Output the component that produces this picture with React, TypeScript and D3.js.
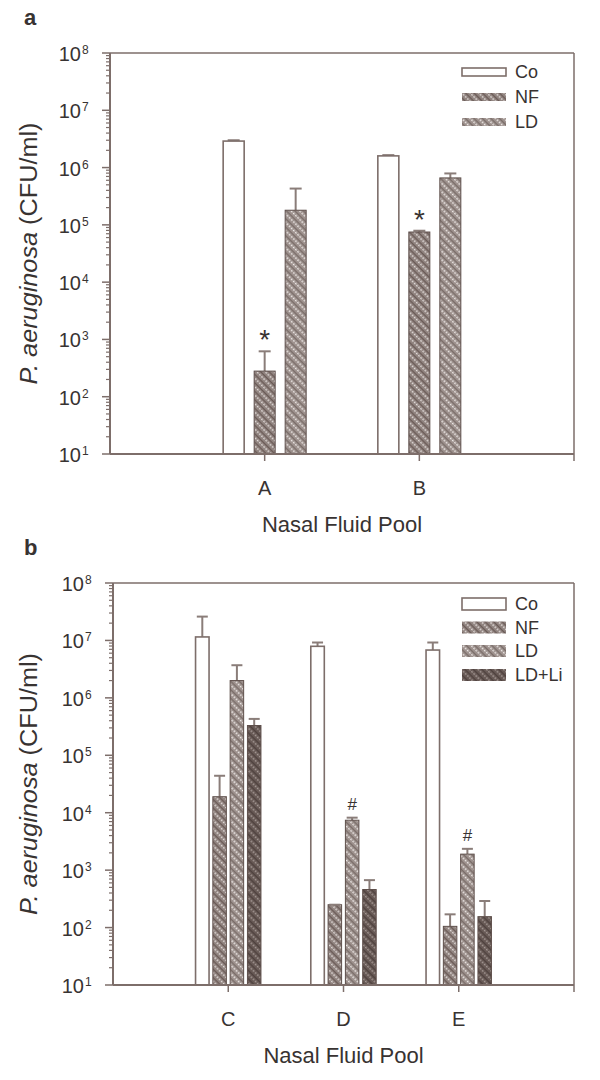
import React from "react";
import * as d3 from "d3";

// ---------- Data ----------
const catsA = ["A", "B"];
const catsB = ["C", "D", "E"];
const seriesA = ["Co", "NF", "LD"];
const seriesB = ["Co", "NF", "LD", "LD+Li"];

// panel a values (CFU/ml) and upper error-bar ends
const coA = [2.9e6, 1.6e6];
const coAErr = [3.0e6, 1.65e6];
const nfA = [280, 7.5e4];
const nfAErr = [620, 7.9e4];
const ldA = [1.8e5, 6.6e5];
const ldAErr = [4.3e5, 7.9e5];
const markA = ["*", "*"]; // over NF bars

// panel b values (CFU/ml) and upper error-bar ends
const coB = [1.15e7, 7.9e6, 6.8e6];
const coBErr = [2.6e7, 9.2e6, 9.2e6];
const nfB = [1.9e4, 250, 105];
const nfBErr = [4.4e4, 250, 170];
const ldB = [2.0e6, 7.4e3, 1.9e3];
const ldBErr = [3.7e6, 8.2e3, 2.35e3];
const liB = [3.3e5, 460, 155];
const liBErr = [4.3e5, 670, 290];
const markB = ["", "#", "#"]; // over LD bars

const yTicks = [1e1, 1e2, 1e3, 1e4, 1e5, 1e6, 1e7, 1e8];

// ---------- Style ----------
const AXIS = "#7d6e6a";
const EDGE = "#5e4f4b";
const ERR = "#8a7d79";
const TEXT = "#383332";
const FONT = "'Liberation Sans', Arial, Helvetica, sans-serif";

const fillFor = (s: string) =>
  s === "Co" ? "#ffffff" : s === "NF" ? "url(#patNF)" : s === "LD" ? "url(#patLD)" : "url(#patLI)";

type PanelProps = {
  label: string;
  top: number;
  bottom: number;
  left: number;
  right: number;
  cats: string[];
  series: string[];
  values: number[][];
  errs: number[][];
  marks: string[];
  markSeries: number;
  markSize: number;
  barW: number;
  pitch: number;
  capW: number;
  legendY: number[];
  legendBoxH: number;
};

function Panel(p: PanelProps) {
  const y = d3.scaleLog().domain([10, 1e8]).range([p.bottom, p.top]);
  const x = d3
    .scaleLinear()
    .domain([0, p.cats.length + 1])
    .range([p.left, p.right]);
  const n = p.series.length;
  const minor: number[] = [];
  for (let e = 1; e < 8; e++) for (let k = 2; k <= 9; k++) minor.push(k * Math.pow(10, e));

  return (
    <g>
      <text x={24} y={p.top - 28} fontSize={22} fontWeight="bold" fill={TEXT} fontFamily={FONT}>
        {p.label}
      </text>
      {/* frame */}
      <line x1={p.left} x2={p.right} y1={p.top} y2={p.top} stroke={AXIS} strokeWidth={1.5} />
      <line x1={p.right} x2={p.right} y1={p.top} y2={p.bottom} stroke={AXIS} strokeWidth={1.5} />
      {/* bars */}
      {p.cats.map((c, i) =>
        p.series.map((s, j) => {
          const cx = x(i + 1) + (j - (n - 1) / 2) * p.pitch;
          const v = p.values[j][i];
          const e = p.errs[j][i];
          return (
            <g key={c + s}>
              {e > v * 1.01 && (
                <g stroke={ERR} strokeWidth={2}>
                  <line x1={cx} x2={cx} y1={y(v)} y2={y(e)} />
                  <line x1={cx - p.capW / 2} x2={cx + p.capW / 2} y1={y(e)} y2={y(e)} />
                </g>
              )}
              <rect
                x={cx - p.barW / 2}
                y={y(v)}
                width={p.barW}
                height={p.bottom - y(v)}
                fill={fillFor(s)}
                stroke={s === "Co" ? AXIS : EDGE}
                strokeWidth={s === "Co" ? 1.6 : 1}
              />
              {e <= v * 1.01 && (
                <line x1={cx - p.capW / 2} x2={cx + p.capW / 2} y1={y(v)} y2={y(v)} stroke={ERR} strokeWidth={2} />
              )}
              {j === p.markSeries && p.marks[i] && (
                <text
                  x={cx}
                  y={y(Math.max(e, v)) - (p.marks[i] === "*" ? 2 : 8)}
                  textAnchor="middle"
                  fontSize={p.markSize}
                  fill={TEXT}
                  fontFamily={FONT}
                >
                  {p.marks[i]}
                </text>
              )}
            </g>
          );
        })
      )}
      {/* y axis */}
      <line x1={p.left} x2={p.left} y1={p.top} y2={p.bottom} stroke={AXIS} strokeWidth={2} />
      {minor.map((m) => (
        <line key={m} x1={p.left - 4} x2={p.left} y1={y(m)} y2={y(m)} stroke={AXIS} strokeWidth={1.2} />
      ))}
      {yTicks.map((t) => (
        <g key={t}>
          <line x1={p.left - 8} x2={p.left} y1={y(t)} y2={y(t)} stroke={AXIS} strokeWidth={1.5} />
          <text x={p.left - 29} y={y(t) + 8} textAnchor="end" fontSize={20} fill={TEXT} fontFamily={FONT}>
            10
          </text>
          <text x={p.left - 28} y={y(t) + 1} textAnchor="start" fontSize={12} fill={TEXT} fontFamily={FONT}>
            {Math.round(Math.log10(t))}
          </text>
        </g>
      ))}
      {/* x axis */}
      <line x1={p.left} x2={p.right} y1={p.bottom} y2={p.bottom} stroke={AXIS} strokeWidth={2} />
      <line x1={p.right} x2={p.right} y1={p.bottom} y2={p.bottom + 7} stroke={AXIS} strokeWidth={1.5} />
      {p.cats.map((c, i) => (
        <g key={c}>
          <line x1={x(i + 1)} x2={x(i + 1)} y1={p.bottom} y2={p.bottom + 7} stroke={AXIS} strokeWidth={1.5} />
          <text x={x(i + 1)} y={p.bottom + 41} textAnchor="middle" fontSize={20} fill={TEXT} fontFamily={FONT}>
            {c}
          </text>
        </g>
      ))}
      <text
        x={(p.left + p.right) / 2}
        y={p.bottom + 78}
        textAnchor="middle"
        fontSize={22}
        fill={TEXT}
        fontFamily={FONT}
      >
        Nasal Fluid Pool
      </text>
      {/* y label */}
      <text
        transform={`translate(37,${(p.top + p.bottom) / 2}) rotate(-90)`}
        textAnchor="middle"
        fontSize={23}
        fill={TEXT}
        fontFamily={FONT}
        textLength={262}
        lengthAdjust="spacingAndGlyphs"
      >
        <tspan fontStyle="italic">P. aeruginosa</tspan> (CFU/ml)
      </text>
      {/* legend */}
      {p.series.map((s, j) => (
        <g key={s}>
          <rect
            x={462}
            y={p.legendY[j] - p.legendBoxH / 2}
            width={44}
            height={p.legendBoxH}
            fill={fillFor(s)}
            stroke={s === "Co" ? AXIS : "none"}
            strokeWidth={1.6}
          />
          <text x={515} y={p.legendY[j] + 6} fontSize={18} fill={TEXT} fontFamily={FONT}>
            {s}
          </text>
        </g>
      ))}
    </g>
  );
}

function Pattern({ id, bg, dot, line }: { id: string; bg: string; dot: string; line: string }) {
  return (
    <pattern id={id} patternUnits="userSpaceOnUse" width={6} height={6} patternTransform="rotate(45)">
      <rect width={6} height={6} fill={bg} />
      <rect x={0} y={0} width={6} height={1.2} fill={line} />
      <rect x={1} y={2.5} width={1.6} height={1.6} fill={dot} />
      <rect x={4} y={2.5} width={1.6} height={1.6} fill={dot} />
    </pattern>
  );
}

export default function App() {
  return (
    <svg width={600} height={1080} style={{ display: "block", position: "absolute", left: 0, top: 0 }}>
      <rect width={600} height={1080} fill="#ffffff" />
      <defs>
        <Pattern id="patNF" bg="#8e817d" dot="#e6e0de" line="#6a5b57" />
        <Pattern id="patLD" bg="#9b8f8b" dot="#f0ebe9" line="#7a6d69" />
        <Pattern id="patLI" bg="#655753" dot="#a89c98" line="#4e413e" />
      </defs>
      <Panel
        label="a"
        top={53}
        bottom={454}
        left={110}
        right={574}
        cats={catsA}
        series={seriesA}
        values={[coA, nfA, ldA]}
        errs={[coAErr, nfAErr, ldAErr]}
        marks={markA}
        markSeries={1}
        markSize={28}
        barW={21}
        pitch={31}
        capW={12}
        legendY={[72, 97, 122]}
        legendBoxH={8}
      />
      <Panel
        label="b"
        top={583}
        bottom={985}
        left={113}
        right={574}
        cats={catsB}
        series={seriesB}
        values={[coB, nfB, ldB, liB]}
        errs={[coBErr, nfBErr, ldBErr, liBErr]}
        marks={markB}
        markSeries={2}
        markSize={17}
        barW={13.5}
        pitch={17.3}
        capW={11}
        legendY={[604, 627.5, 651, 675]}
        legendBoxH={12}
      />
    </svg>
  );
}
